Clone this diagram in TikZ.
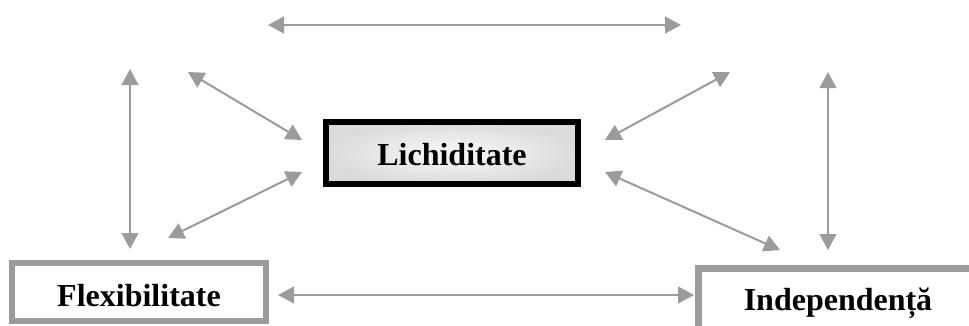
\documentclass[tikz,border=0pt]{standalone}
\usepackage{fontspec}
\setmainfont{Liberation Serif}
\usetikzlibrary{arrows.meta}
\definecolor{linkgray}{HTML}{9B9B9B}
\tikzset{
  link/.style={draw=linkgray, line width=1.5pt,
    {Triangle[length=12pt,width=12.5pt]}-{Triangle[length=12pt,width=12.5pt]}},
  label/.style={font=\fontsize{24}{28}\selectfont\bfseries, inner sep=0pt}
}
\begin{document}
\begin{tikzpicture}[x=0.75pt,y=-0.75pt]
  \path[use as bounding box, clip] (0,0) rectangle (969,325);
  \fill[white] (0,0) rectangle (969,325);

  % central box with soft shading
  \node[draw=black, line width=4.5pt, minimum width=252*0.75pt, minimum height=62*0.75pt,
        inner color=gray!5, outer color=gray!28, label] (lich) at (452,153) {};
  \node[label] at (452,155) {Lichiditate};

  % lower left box
  \node[draw=linkgray, line width=4.5pt, fill=white, minimum width=254*0.75pt,
        minimum height=58*0.75pt, inner sep=0pt] (flex) at (139,292) {};
  \node[label] at (139,296) {Flexibilitate};

  % lower right box, running off the page
  \draw[linkgray, line width=5pt] (698.5,340) -- (698.5,268.5) -- (990,268.5);
  \node[label] (indep) at (838,303) {Independență};

  % endpoints of the connectors
  \coordinate (t1) at (268,25);   \coordinate (t2) at (681,25);
  \coordinate (lv1) at (130,69);  \coordinate (lv2) at (130,249);
  \coordinate (lu1) at (188,72);  \coordinate (lu2) at (302,140);
  \coordinate (ll1) at (302,172); \coordinate (ll2) at (168,238);
  \coordinate (ru1) at (730,72);  \coordinate (ru2) at (605,140);
  \coordinate (rl1) at (605,172); \coordinate (rl2) at (780,250);
  \coordinate (rv1) at (828,72);  \coordinate (rv2) at (828,250);
  \coordinate (b1) at (278,295);  \coordinate (b2) at (694,295);

  \draw[link] (t1) -- (t2);
  \draw[link] (lv1) -- (lv2);
  \draw[link] (lu1) -- (lu2);
  \draw[link] (ll1) -- (ll2);
  \draw[link] (ru1) -- (ru2);
  \draw[link] (rl1) -- (rl2);
  \draw[link] (rv1) -- (rv2);
  \draw[link] (b1) -- (b2);
\end{tikzpicture}
\end{document}
